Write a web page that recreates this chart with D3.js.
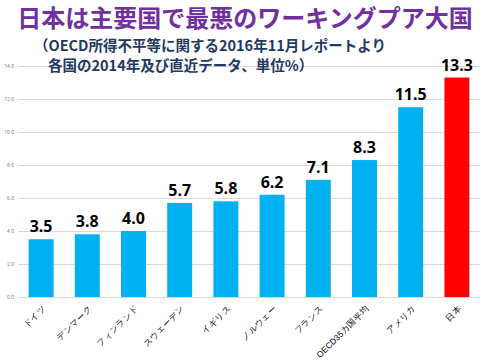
<!DOCTYPE html>
<html>
<head>
<meta charset="utf-8">
<script src="https://cdn.jsdelivr.net/npm/d3@7"></script>
<style>
	body { margin: 0; background: #fff; }
	svg { display: block; font-family: 'Noto Sans CJK JP', 'Noto Sans', sans-serif; }
</style>
</head>
<body>
<div id="chart"></div>
<script>
var countries = [ 'ドイツ', 'デンマーク', 'フィンランド', 'スウェーデン', 'イギリス', 'ノルウェー', 'フランス', 'OECD35カ国平均', 'アメリカ', '日本' ];
var rates = [ 3.5, 3.8, 4.0, 5.7, 5.8, 6.2, 7.1, 8.3, 11.5, 13.3 ];
var yTicks = [ 0, 2, 4, 6, 8, 10, 12, 14 ];

var sizes = { width: 480, height: 361 };
var padding = { top: 66, right: 0, bottom: 64, left: 18 };
sizes.cwidth = sizes.width - padding.left - padding.right;
sizes.cheight = sizes.height - padding.top - padding.bottom;

var svg = d3.select( '#chart' ).append( 'svg' )
	.attr( 'width', sizes.width )
	.attr( 'height', sizes.height );

var data = countries.map( function ( c, i ) {
	return { name: c, value: rates[i] };
} );

var x = d3.scaleBand()
	.domain( countries )
	.range( [ 0, sizes.cwidth ] )
	.paddingInner( 0.46 )
	.paddingOuter( 0.23 );

var y = d3.scaleLinear()
	.domain( [ 0, 14 ] )
	.range( [ sizes.cheight, 0 ] );

var guts = svg.append( 'g' )
	.attr( 'transform', 'translate(' + padding.left + ',' + padding.top + ')' );

// grid + y labels
var yAxis = guts.append( 'g' )
	.call( d3.axisLeft( y ).tickValues( yTicks ).tickSize( -sizes.cwidth ).tickFormat( d3.format( '.1f' ) ) );
yAxis.select( '.domain' ).remove();
yAxis.selectAll( '.tick line' ).attr( 'stroke', '#d9d9d9' ).attr( 'stroke-width', 1 );
yAxis.selectAll( '.tick text' )
	.attr( 'x', -4 )
	.style( 'font-size', '5px' )
	.style( 'font-family', 'Roboto, sans-serif' )
	.attr( 'fill', '#7f7f7f' );

// bars
guts.selectAll( 'rect.bar' )
	.data( data )
	.enter()
	.append( 'rect' )
	.attr( 'class', 'bar' )
	.attr( 'x', function ( d ) { return x( d.name ); } )
	.attr( 'width', x.bandwidth() )
	.attr( 'y', function ( d ) { return y( d.value ); } )
	.attr( 'height', function ( d ) { return sizes.cheight - y( d.value ); } )
	.attr( 'fill', function ( d ) { return d.name === '日本' ? '#ff0000' : '#00b0f0'; } );

// value labels
guts.selectAll( 'text.val' )
	.data( data )
	.enter()
	.append( 'text' )
	.attr( 'class', 'val' )
	.attr( 'x', function ( d ) { return x( d.name ) + x.bandwidth() / 2; } )
	.attr( 'y', function ( d ) { return y( d.value ) - 7; } )
	.attr( 'text-anchor', 'middle' )
	.style( 'font-family', "'Open Sans', 'Noto Sans', sans-serif" )
	.style( 'font-weight', 'bold' )
	.style( 'font-size', '16px' )
	.attr( 'fill', '#000' )
	.text( function ( d ) { return d.value.toFixed( 1 ); } );

// x labels
var xAxis = guts.append( 'g' )
	.attr( 'transform', 'translate(0,' + sizes.cheight + ')' )
	.call( d3.axisBottom( x ).tickSize( 0 ) );
xAxis.select( '.domain' ).remove();
xAxis.selectAll( '.tick text' )
	.attr( 'text-anchor', 'end' )
	.attr( 'dy', 0 )
	.attr( 'y', 0 )
	.attr( 'transform', 'translate(5,12) rotate(-45)' )
	.style( 'font-size', '8.5px' )
	.style( 'font-weight', '500' )
	.attr( 'fill', '#000' );

// title
svg.append( 'text' )
	.attr( 'x', 245 )
	.attr( 'y', 27 )
	.attr( 'text-anchor', 'middle' )
	.style( 'font-size', '24px' )
	.style( 'font-weight', 'bold' )
	.attr( 'fill', '#7030a0' )
	.text( '日本は主要国で最悪のワーキングプア大国' );

var sub = svg.append( 'g' )
	.style( 'font-size', '14.5px' )
	.style( 'font-weight', 'bold' )
	.attr( 'fill', '#1f3864' );
sub.append( 'text' )
	.attr( 'x', 34 )
	.attr( 'y', 51 )
	.text( '（OECD所得不平等に関する2016年11月レポートより' );
sub.append( 'text' )
	.attr( 'x', 48 )
	.attr( 'y', 71 )
	.text( '各国の2014年及び直近データ、単位%）' );
</script>
</body>
</html>
